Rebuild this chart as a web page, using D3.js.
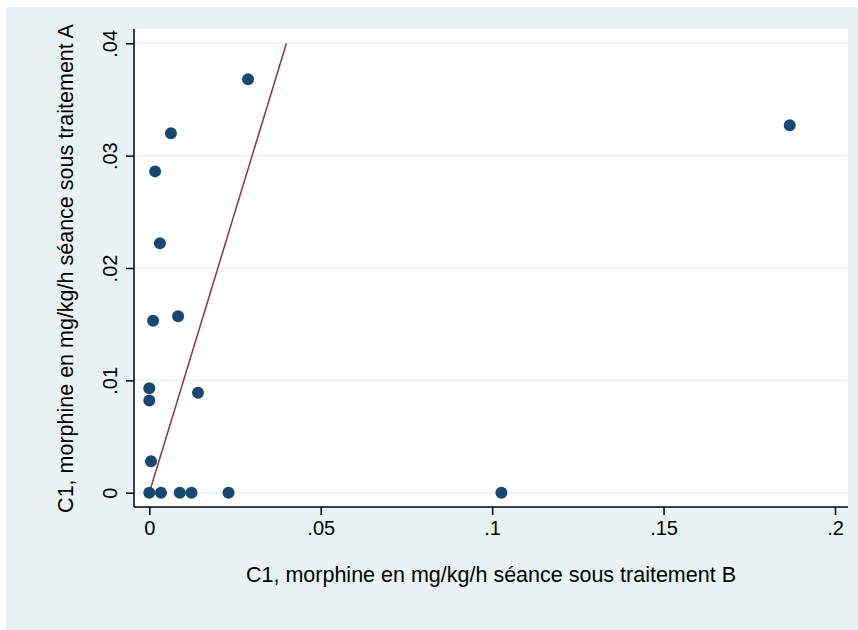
<!DOCTYPE html>
<html>
<head>
<meta charset="utf-8">
<script src="https://cdn.jsdelivr.net/npm/d3@7"></script>
<style>
  body { margin: 0; background: #ffffff; }
  svg { display: block; font-family: "Liberation Sans", Arial, sans-serif; }
</style>
</head>
<body>
<svg width="858" height="630"></svg>
<script>
// Data: C1 morphine (mg/kg/h), treatment B (x) vs treatment A (y)
var seanceB = [0.0288, 0.1868, 0.0063, 0.0017, 0.0031, 0.0084, 0.0011, 0.0142, 0.0000, 0.0000, 0.0005,
               0.0000, 0.0034, 0.0089, 0.0123, 0.0231, 0.1027];
var seanceA = [0.0368, 0.0327, 0.0320, 0.0286, 0.0222, 0.0157, 0.0153, 0.0089, 0.0093, 0.0082, 0.0028,
               0.0000, 0.0000, 0.0000, 0.0000, 0.0000, 0.0000];
var xTicks = [0, 0.05, 0.1, 0.15, 0.2];
var yTicks = [0, 0.01, 0.02, 0.03, 0.04];
var refLine = [0, 0.04]; // y = x

var xTitle = "C1, morphine en mg/kg/h séance sous traitement B";
var yTitle = "C1, morphine en mg/kg/h séance sous traitement A";

var svg = d3.select("svg");

// plot region
var region = { left: 134, right: 848, top: 29, bottom: 507 };

var x = d3.scaleLinear().domain([0, 0.2]).range([149.3, 835]);
var y = d3.scaleLinear().domain([0, 0.04]).range([492.7, 43.3]);

// stata style labels: ".05" instead of "0.05"
var fmt = function(d) { return d === 0 ? "0" : d3.format("~g")(d).replace(/^0\./, "."); };

// outer background
svg.append("rect")
    .attr("x", 6).attr("y", 7)
    .attr("width", 852).attr("height", 623)
    .attr("fill", "#eaf2f3");

svg.append("rect")
    .attr("x", region.left).attr("y", region.top)
    .attr("width", region.right - region.left)
    .attr("height", region.bottom - region.top)
    .attr("fill", "#ffffff");

// grid lines
svg.append("g")
    .selectAll("line")
    .data(yTicks)
    .enter()
    .append("line")
    .attr("x1", region.left)
    .attr("x2", region.right)
    .attr("y1", function(d) { return y(d); })
    .attr("y2", function(d) { return y(d); })
    .attr("stroke", "#eaf2f3")
    .attr("stroke-width", 1.5);

// reference line
svg.append("line")
    .attr("x1", x(refLine[0])).attr("y1", y(refLine[0]))
    .attr("x2", x(refLine[1])).attr("y2", y(refLine[1]))
    .attr("stroke", "#90353b")
    .attr("stroke-width", 1.5);

// points
svg.append("g")
    .selectAll("circle")
    .data(seanceB)
    .enter()
    .append("circle")
    .attr("cx", function(d) { return x(d); })
    .attr("cy", function(d, i) { return y(seanceA[i]); })
    .attr("r", 6)
    .attr("fill", "#1a476f");

// x axis
var xAxis = svg.append("g")
    .attr("transform", "translate(0," + region.bottom + ")")
    .call(d3.axisBottom(x).tickValues(xTicks).tickFormat(fmt).tickSize(8).tickPadding(6).tickSizeOuter(0));
xAxis.select(".domain").remove();
xAxis.selectAll("line").attr("stroke", "#000").attr("stroke-width", 1.5);
xAxis.selectAll("text").attr("font-size", 20).attr("fill", "#000").style("font-family", "Liberation Sans, Arial, sans-serif");

svg.append("line")
    .attr("x1", region.left).attr("x2", region.right)
    .attr("y1", region.bottom).attr("y2", region.bottom)
    .attr("stroke", "#000").attr("stroke-width", 1.5);

// y axis
var yAxis = svg.append("g")
    .attr("transform", "translate(" + region.left + ",0)")
    .call(d3.axisLeft(y).tickValues(yTicks).tickFormat(fmt).tickSize(8).tickSizeOuter(0));
yAxis.select(".domain").remove();
yAxis.selectAll("line").attr("stroke", "#000").attr("stroke-width", 1.5);
yAxis.selectAll("text")
    .attr("x", 0).attr("dy", 0)
    .attr("transform", "translate(-17,0) rotate(-90)")
    .attr("text-anchor", "middle")
    .attr("font-size", 20)
    .attr("fill", "#000")
    .style("font-family", "Liberation Sans, Arial, sans-serif");

svg.append("line")
    .attr("x1", region.left).attr("x2", region.left)
    .attr("y1", region.top).attr("y2", region.bottom)
    .attr("stroke", "#000").attr("stroke-width", 1.5);

// titles
svg.append("text")
    .attr("x", 491).attr("y", 582)
    .attr("text-anchor", "middle")
    .attr("font-size", 21.5)
    .attr("fill", "#000")
    .text(xTitle);

svg.append("text")
    .attr("transform", "translate(73,268.5) rotate(-90)")
    .attr("text-anchor", "middle")
    .attr("font-size", 21.5)
    .attr("fill", "#000")
    .text(yTitle);
</script>
</body>
</html>
